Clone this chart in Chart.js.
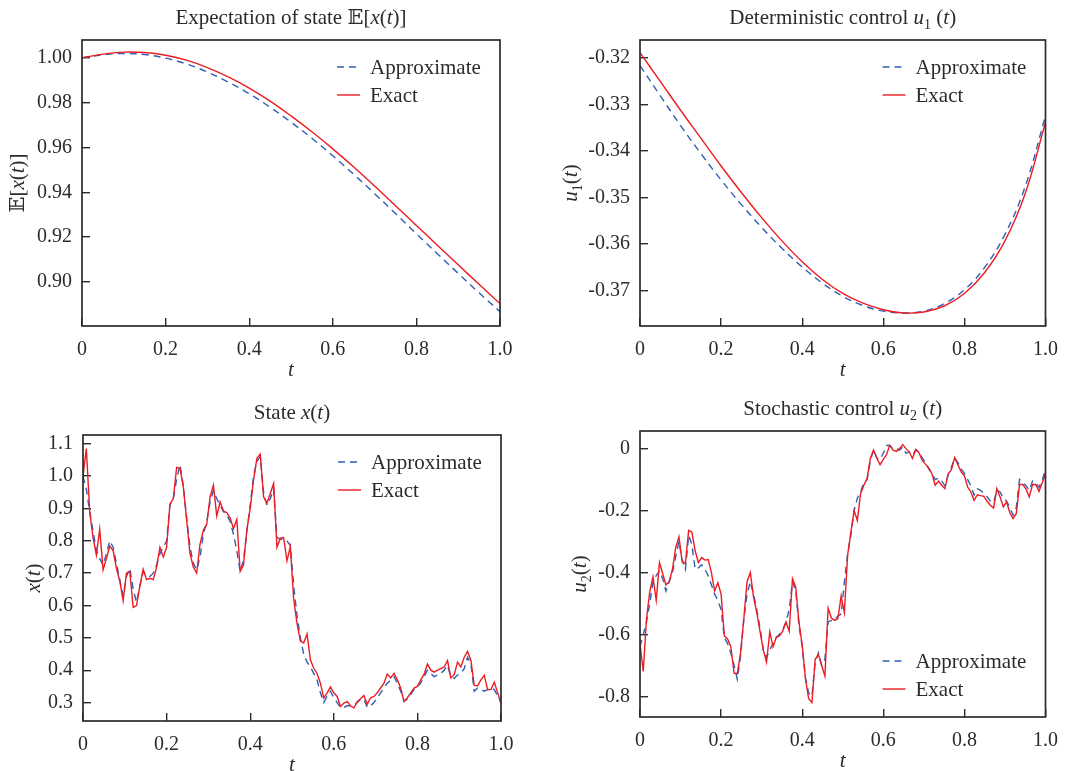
<!DOCTYPE html>
<html>
<head>
<meta charset="utf-8">
<script src="https://cdn.jsdelivr.net/npm/chart.js@4.4.0/dist/chart.umd.min.js"></script>
<style>
  body { margin: 0; background: #fff; width: 1078px; height: 771px; overflow: hidden; position: relative; }
  canvas { position: absolute; }
</style>
</head>
<body>
<canvas id="cExp" width="539" height="386" style="left:0;top:0"></canvas>
<canvas id="cU1" width="538" height="386" style="left:540px;top:0"></canvas>
<canvas id="cState" width="539" height="386" style="left:0;top:395px"></canvas>
<canvas id="cU2" width="538" height="386" style="left:540px;top:391px"></canvas>
<script>
"use strict";

// 1: data
// smooth curves, sampled every 0.05
const tSmooth = [0, 0.05, 0.1, 0.15, 0.2, 0.25, 0.3, 0.35, 0.4, 0.45, 0.5,
  0.55, 0.6, 0.65, 0.7, 0.75, 0.8, 0.85, 0.9, 0.95, 1.0];

const expApprox = [1.0000, 1.0014, 1.0020, 1.0015, 0.9999, 0.9973, 0.9937, 0.9892, 0.9840, 0.9780, 0.9713,
  0.9641, 0.9563, 0.9480, 0.9394, 0.9305, 0.9215, 0.9126, 0.9038, 0.8951, 0.8867];
const expExact = [1.0000, 1.0017, 1.0026, 1.0024, 1.0012, 0.9990, 0.9957, 0.9915, 0.9865, 0.9807, 0.9741,
  0.9670, 0.9594, 0.9513, 0.9428, 0.9340, 0.9252, 0.9164, 0.9076, 0.8989, 0.8903];

const u1Approx = [-0.3216, -0.3281, -0.3345, -0.3405, -0.3462, -0.3515, -0.3564, -0.3609, -0.3649, -0.3684, -0.3712,
  -0.3732, -0.3744, -0.3748, -0.3744, -0.3728, -0.3698, -0.3650, -0.3579, -0.3476, -0.3324];
const u1Exact = [-0.3188, -0.3250, -0.3312, -0.3372, -0.3432, -0.3489, -0.3543, -0.3593, -0.3638, -0.3676, -0.3706,
  -0.3727, -0.3741, -0.3748, -0.3746, -0.3733, -0.3706, -0.3661, -0.3593, -0.3491, -0.3338];

// noisy paths, time step 0.008 (126 samples)
const tPath = Array.from({ length: 126 }, (_, i) => i * 0.008);

const xApprox = [
  1.000, 0.960, 0.890, 0.830, 0.770, 0.745, 0.725, 0.760, 0.800, 0.780,
  0.730, 0.680, 0.630, 0.690, 0.715, 0.650, 0.610, 0.660, 0.705, 0.695,
  0.690, 0.700, 0.725, 0.760, 0.780, 0.800, 0.910, 0.930, 0.990, 1.035,
  0.970, 0.870, 0.780, 0.730, 0.710, 0.750, 0.820, 0.860, 0.920, 0.955,
  0.930, 0.910, 0.890, 0.880, 0.860, 0.820, 0.770, 0.705, 0.740, 0.830,
  0.910, 1.000, 1.045, 1.060, 0.950, 0.910, 0.930, 0.960, 0.810, 0.805,
  0.805, 0.800, 0.785, 0.660, 0.570, 0.500, 0.450, 0.425, 0.410, 0.390,
  0.370, 0.330, 0.300, 0.320, 0.335, 0.315, 0.300, 0.285, 0.285, 0.290,
  0.290, 0.290, 0.300, 0.310, 0.310, 0.285, 0.290, 0.300, 0.315, 0.330,
  0.345, 0.360, 0.370, 0.380, 0.360, 0.335, 0.305, 0.310, 0.325, 0.340,
  0.350, 0.360, 0.380, 0.400, 0.390, 0.380, 0.385, 0.390, 0.400, 0.415,
  0.380, 0.375, 0.385, 0.390, 0.405, 0.440, 0.420, 0.335, 0.345, 0.340,
  0.335, 0.340, 0.345, 0.340, 0.320, 0.300];
const xExact = [
  1.000, 1.085, 0.890, 0.810, 0.756, 0.836, 0.710, 0.745, 0.784, 0.770,
  0.715, 0.675, 0.615, 0.700, 0.705, 0.594, 0.600, 0.660, 0.712, 0.680,
  0.684, 0.680, 0.718, 0.780, 0.750, 0.780, 0.914, 0.930, 1.027, 1.024,
  0.967, 0.864, 0.760, 0.718, 0.700, 0.790, 0.833, 0.850, 0.936, 0.972,
  0.877, 0.920, 0.892, 0.887, 0.870, 0.838, 0.866, 0.705, 0.725, 0.833,
  0.900, 0.988, 1.055, 1.068, 0.936, 0.916, 0.946, 0.977, 0.780, 0.808,
  0.810, 0.738, 0.782, 0.620, 0.545, 0.490, 0.484, 0.512, 0.432, 0.406,
  0.390, 0.360, 0.314, 0.330, 0.348, 0.330, 0.319, 0.288, 0.298, 0.303,
  0.290, 0.283, 0.303, 0.312, 0.322, 0.295, 0.315, 0.319, 0.330, 0.345,
  0.360, 0.388, 0.376, 0.390, 0.370, 0.345, 0.303, 0.315, 0.330, 0.345,
  0.350, 0.370, 0.388, 0.419, 0.400, 0.394, 0.400, 0.405, 0.410, 0.430,
  0.376, 0.386, 0.425, 0.410, 0.440, 0.458, 0.430, 0.353, 0.352, 0.370,
  0.384, 0.340, 0.340, 0.363, 0.330, 0.298];

const u2Approx = [
  -0.640, -0.600, -0.560, -0.500, -0.430, -0.410, -0.395, -0.420, -0.460, -0.430,
  -0.400, -0.350, -0.300, -0.360, -0.390, -0.280, -0.310, -0.390, -0.385, -0.375,
  -0.390, -0.410, -0.440, -0.470, -0.490, -0.520, -0.610, -0.630, -0.660, -0.700,
  -0.745, -0.670, -0.550, -0.470, -0.430, -0.470, -0.520, -0.580, -0.650, -0.675,
  -0.650, -0.630, -0.610, -0.600, -0.585, -0.560, -0.520, -0.430, -0.460, -0.570,
  -0.640, -0.740, -0.790, -0.800, -0.690, -0.660, -0.700, -0.680, -0.560, -0.555,
  -0.555, -0.540, -0.535, -0.430, -0.340, -0.280, -0.200, -0.160, -0.140, -0.110,
  -0.100, -0.040, -0.003, -0.030, -0.035, -0.015, 0.010, 0.010, 0.000, 0.000,
  -0.005, 0.005, -0.015, -0.010, -0.020, -0.005, -0.010, -0.030, -0.045, -0.065,
  -0.080, -0.100, -0.095, -0.105, -0.120, -0.085, -0.060, -0.030, -0.045, -0.065,
  -0.080, -0.100, -0.120, -0.150, -0.130, -0.135, -0.145, -0.155, -0.170, -0.175,
  -0.135, -0.140, -0.160, -0.170, -0.190, -0.215, -0.190, -0.100, -0.110, -0.120,
  -0.135, -0.105, -0.110, -0.125, -0.100, -0.070];
const u2Exact = [
  -0.630, -0.720, -0.550, -0.463, -0.415, -0.490, -0.368, -0.404, -0.440, -0.430,
  -0.390, -0.320, -0.285, -0.366, -0.370, -0.264, -0.270, -0.330, -0.368, -0.352,
  -0.360, -0.358, -0.400, -0.460, -0.433, -0.470, -0.605, -0.615, -0.640, -0.725,
  -0.727, -0.660, -0.550, -0.430, -0.400, -0.480, -0.530, -0.590, -0.650, -0.690,
  -0.592, -0.640, -0.610, -0.605, -0.590, -0.560, -0.590, -0.420, -0.447, -0.560,
  -0.635, -0.743, -0.808, -0.820, -0.680, -0.665, -0.700, -0.735, -0.515, -0.547,
  -0.555, -0.550, -0.476, -0.530, -0.345, -0.270, -0.200, -0.232, -0.145, -0.118,
  -0.097, -0.032, -0.005, -0.030, -0.052, -0.035, -0.019, 0.011, -0.005, -0.009,
  0.000, 0.013, 0.000, -0.011, -0.032, -0.002, -0.013, -0.038, -0.050, -0.062,
  -0.081, -0.118, -0.105, -0.118, -0.129, -0.081, -0.068, -0.029, -0.052, -0.075,
  -0.088, -0.124, -0.140, -0.167, -0.149, -0.152, -0.154, -0.170, -0.183, -0.192,
  -0.129, -0.156, -0.188, -0.172, -0.207, -0.226, -0.210, -0.116, -0.116, -0.131,
  -0.156, -0.116, -0.116, -0.138, -0.110, -0.081];

// tick values and labels
const tTicks = [0, 0.2, 0.4, 0.6, 0.8, 1.0];
const tTickLabels = ['0', '0.2', '0.4', '0.6', '0.8', '1.0'];
const expTicks = [0.90, 0.92, 0.94, 0.96, 0.98, 1.00];
const expTickLabels = ['0.90', '0.92', '0.94', '0.96', '0.98', '1.00'];
const u1Ticks = [-0.37, -0.36, -0.35, -0.34, -0.33, -0.32];
const u1TickLabels = ['-0.37', '-0.36', '-0.35', '-0.34', '-0.33', '-0.32'];
const xTicks = [0.3, 0.4, 0.5, 0.6, 0.7, 0.8, 0.9, 1.0, 1.1];
const xTickLabels = ['0.3', '0.4', '0.5', '0.6', '0.7', '0.8', '0.9', '1.0', '1.1'];
const u2Ticks = [-0.8, -0.6, -0.4, -0.2, 0];
const u2TickLabels = ['-0.8', '-0.6', '-0.4', '-0.2', '0'];

const seriesLabels = ['Approximate', 'Exact'];

// 2: look
const blue = '#2f5fb3';
const red = '#ec1c24';
const ink = '#2b2b2b';
const serif = "'Liberation Serif', 'DejaVu Serif', serif";
const tickSize = 20;
const textSize = 21;

function fontFor(kind, size) {
  if (kind === 'i') return 'italic ' + size + 'px ' + serif;
  if (kind === 's') return Math.round(size * 0.68) + 'px ' + serif;
  return size + 'px ' + serif;
}

// draw a run of mixed roman / italic / subscript pieces centred on x
function drawRich(ctx, parts, x, y, rot) {
  ctx.save();
  ctx.translate(x, y);
  ctx.rotate(rot || 0);
  ctx.fillStyle = ink;
  ctx.textBaseline = 'alphabetic';
  ctx.textAlign = 'left';
  let w = 0;
  for (const [txt, kind] of parts) {
    ctx.font = fontFor(kind, textSize);
    w += ctx.measureText(txt).width;
  }
  let cx = -w / 2;
  for (const [txt, kind] of parts) {
    ctx.font = fontFor(kind, textSize);
    ctx.fillText(txt, cx, kind === 's' ? textSize * 0.22 : 0);
    cx += ctx.measureText(txt).width;
  }
  ctx.restore();
}

function toPoints(ts, vs) {
  return ts.map((t, i) => ({ x: t, y: vs[i] }));
}

// 3: create one panel
function appendPanel(id, cfg) {
  const framePlugin = {
    id: 'frame',
    afterDatasetsDraw(chart) {
      const { ctx, chartArea: a } = chart;
      ctx.save();
      ctx.strokeStyle = ink;
      ctx.lineWidth = 1.7;
      ctx.strokeRect(a.left, a.top, a.right - a.left, a.bottom - a.top);
      ctx.restore();
    }
  };
  const textPlugin = {
    id: 'panelText',
    afterDraw(chart) {
      const { ctx, chartArea: a } = chart;
      const cxm = (a.left + a.right) / 2;
      const cym = (a.top + a.bottom) / 2;
      drawRich(ctx, cfg.title, cxm, a.top - 16);
      drawRich(ctx, cfg.yTitle, a.left - cfg.yTitleGap, cym, -Math.PI / 2);
      drawRich(ctx, [['t', 'i']], cxm, a.bottom + 50);
    }
  };
  const legendPlugin = {
    id: 'innerLegend',
    afterDraw(chart) {
      const { ctx, chartArea: a } = chart;
      const x0 = a.right - 163;
      const y0 = cfg.legendBottom ? a.bottom - 56 : a.top + 27;
      chart.data.datasets.forEach((ds, k) => {
        const y = y0 + k * 28;
        ctx.save();
        ctx.strokeStyle = ds.borderColor;
        ctx.lineWidth = ds.borderWidth;
        ctx.setLineDash(ds.borderDash || []);
        ctx.beginPath();
        ctx.moveTo(x0, y);
        ctx.lineTo(x0 + 23, y);
        ctx.stroke();
        ctx.restore();
        ctx.save();
        ctx.fillStyle = ink;
        ctx.font = fontFor('r', textSize);
        ctx.textBaseline = 'middle';
        ctx.fillText(ds.label, x0 + 33, y + 1);
        ctx.restore();
      });
    }
  };

  const gridOpts = { drawOnChartArea: false, drawTicks: true, tickLength: -8, color: ink, lineWidth: 1.4 };

  return new Chart(document.getElementById(id), {
    type: 'line',
    data: {
      datasets: [{
        label: seriesLabels[0],
        data: toPoints(cfg.t, cfg.approx),
        borderColor: blue,
        borderWidth: 1.4,
        borderDash: [7, 5],
        pointRadius: 0,
        tension: cfg.tension,
        order: 2
      },
      {
        label: seriesLabels[1],
        data: toPoints(cfg.t, cfg.exact),
        borderColor: red,
        borderWidth: 1.4,
        pointRadius: 0,
        tension: cfg.tension,
        order: 1
      }]
    },
    options: {
      responsive: false,
      animation: false,
      events: [],
      layout: { padding: { top: 40, right: cfg.padRight, left: 0, bottom: 0 } },
      plugins: {
        legend: { display: false },
        tooltip: { enabled: false },
        title: { display: false }
      },
      scales: {
        x: {
          type: 'linear',
          min: 0,
          max: 1,
          afterBuildTicks: s => { s.ticks = tTicks.map(v => ({ value: v })); },
          afterFit: s => { s.height = 60; },
          ticks: {
            autoSkip: false,
            maxRotation: 0,
            padding: 20,
            color: ink,
            font: { family: serif, size: tickSize },
            callback: (v, i) => tTickLabels[i]
          },
          grid: gridOpts,
          border: { display: false }
        },
        y: {
          type: 'linear',
          min: cfg.yMin,
          max: cfg.yMax,
          afterBuildTicks: s => { s.ticks = cfg.yTicks.map(v => ({ value: v })); },
          afterFit: s => { s.width = cfg.axisWidth; },
          ticks: {
            autoSkip: false,
            padding: 18,
            color: ink,
            font: { family: serif, size: tickSize },
            callback: (v, i) => cfg.yTickLabels[i]
          },
          grid: gridOpts,
          border: { display: false }
        }
      }
    },
    plugins: [framePlugin, textPlugin, legendPlugin]
  });
}

appendPanel('cExp', {
  t: tSmooth, approx: expApprox, exact: expExact, tension: 0.4,
  yMin: 0.8803, yMax: 1.0080, yTicks: expTicks, yTickLabels: expTickLabels,
  axisWidth: 82, padRight: 39, yTitleGap: 58,
  title: [['Expectation of state ', 'r'], ['\u{1D53C}', 'r'], ['[', 'r'], ['x', 'i'], ['(', 'r'], ['t', 'i'], [')]', 'r']],
  yTitle: [['\u{1D53C}', 'r'], ['[', 'r'], ['x', 'i'], ['(', 'r'], ['t', 'i'], [')]', 'r']]
});

appendPanel('cU1', {
  t: tSmooth, approx: u1Approx, exact: u1Exact, tension: 0.4,
  yMin: -0.3776, yMax: -0.3161, yTicks: u1Ticks, yTickLabels: u1TickLabels,
  axisWidth: 100, padRight: 21, yTitleGap: 63,
  title: [['Deterministic control ', 'r'], ['u', 'i'], ['1', 's'], [' (', 'r'], ['t', 'i'], [')', 'r']],
  yTitle: [['u', 'i'], ['1', 's'], ['(', 'r'], ['t', 'i'], [')', 'r']]
});

appendPanel('cState', {
  t: tPath, approx: xApprox, exact: xExact, tension: 0,
  yMin: 0.243, yMax: 1.127, yTicks: xTicks, yTickLabels: xTickLabels,
  axisWidth: 83, padRight: 38, yTitleGap: 43,
  title: [['State ', 'r'], ['x', 'i'], ['(', 'r'], ['t', 'i'], [')', 'r']],
  yTitle: [['x', 'i'], ['(', 'r'], ['t', 'i'], [')', 'r']]
});

appendPanel('cU2', {
  t: tPath, approx: u2Approx, exact: u2Exact, tension: 0,
  yMin: -0.867, yMax: 0.057, yTicks: u2Ticks, yTickLabels: u2TickLabels,
  axisWidth: 100, padRight: 21, yTitleGap: 54, legendBottom: true,
  title: [['Stochastic control ', 'r'], ['u', 'i'], ['2', 's'], [' (', 'r'], ['t', 'i'], [')', 'r']],
  yTitle: [['u', 'i'], ['2', 's'], ['(', 'r'], ['t', 'i'], [')', 'r']]
});
</script>
</body>
</html>
